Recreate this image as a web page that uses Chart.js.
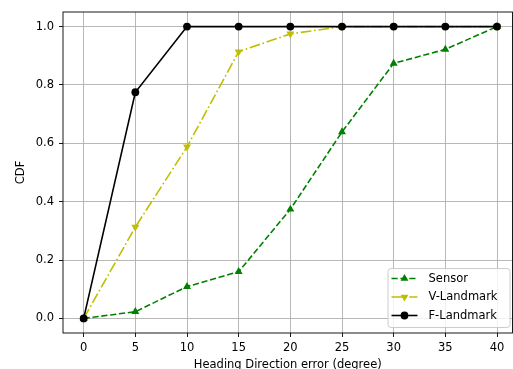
<!DOCTYPE html>
<html lang="en">
<head>
<meta charset="utf-8" />
<title>Heading direction error CDF</title>
<script src="https://cdn.jsdelivr.net/npm/chart.js@4.4.1/dist/chart.umd.min.js"></script>
<style>
  html, body { margin: 0; padding: 0; background: #fff; }
  #wrap { width: 513px; height: 369px; }
</style>
</head>
<body>
<div id="wrap"><canvas id="cdf" width="513" height="369"></canvas></div>
<script>
// values
const errDeg = [0, 5, 10, 15, 20, 25, 30, 35, 40]
const sensor = [0, 0.023, 0.109, 0.16, 0.374, 0.639, 0.874, 0.922, 1.0]
const vLandmark = [0, 0.313, 0.588, 0.914, 0.975, 1.0, 1.0, 1.0, 1.0]
const fLandmark = [0, 0.775, 1.0, 1.0, 1.0, 1.0, 1.0, 1.0, 1.0]
const xTicks = [0, 5, 10, 15, 20, 25, 30, 35, 40]
const yTicks = [0, 0.2, 0.4, 0.6, 0.8, 1.0]

const FONT = 'DejaVu Sans'
const pts = (ys) => errDeg.map((x, i) => ({ x, y: ys[i] }))

const series = [
  { label: 'Sensor', data: pts(sensor), color: '#008000', dash: [6.2, 2.7], marker: 'triangle', rot: 0, r: 4.6, order: 3 },
  { label: 'V-Landmark', data: pts(vLandmark), color: '#bfbf00', dash: [10.7, 2.7, 1.7, 2.7], marker: 'triangle', rot: 180, r: 4.6, order: 2 },
  { label: 'F-Landmark', data: pts(fLandmark), color: '#000000', dash: [], marker: 'circle', rot: 0, r: 3.9, order: 1 },
]

function drawMarker(ctx, s, x, y) {
  ctx.save()
  ctx.fillStyle = s.color
  ctx.beginPath()
  if (s.marker === 'circle') {
    ctx.arc(x, y, s.r, 0, Math.PI * 2)
  } else {
    let rad = s.rot * Math.PI / 180
    for (let k = 0; k < 3; k++) {
      const px = x + Math.sin(rad) * s.r, py = y - Math.cos(rad) * s.r
      k === 0 ? ctx.moveTo(px, py) : ctx.lineTo(px, py)
      rad += 2 * Math.PI / 3
    }
    ctx.closePath()
  }
  ctx.fill()
  ctx.restore()
}

// frame on all four sides + matplotlib style legend in lower right
const framePlugin = {
  id: 'frame',
  afterDraw(chart) {
    const { ctx, chartArea: a } = chart
    ctx.save()
    ctx.strokeStyle = '#000'
    ctx.lineWidth = 0.9
    ctx.strokeRect(a.left, a.top, a.right - a.left, a.bottom - a.top)

    const bw = 122, bh = 59
    const bx = a.right - bw - 3, by = a.bottom - bh - 6
    ctx.fillStyle = 'rgba(255,255,255,0.8)'
    ctx.strokeStyle = '#cccccc'
    ctx.lineWidth = 1
    ctx.beginPath()
    ctx.roundRect(bx + 0.5, by + 0.5, bw, bh, 3)
    ctx.fill()
    ctx.stroke()

    ctx.font = '11.5px "' + FONT + '"'
    ctx.textBaseline = 'middle'
    ctx.textAlign = 'left'
    series.forEach((s, i) => {
      const cy = by + 10.5 + i * 18.5
      ctx.strokeStyle = s.color
      ctx.lineWidth = 1.6
      ctx.setLineDash(s.dash)
      ctx.beginPath()
      ctx.moveTo(bx + 4, cy)
      ctx.lineTo(bx + 30, cy)
      ctx.stroke()
      ctx.setLineDash([])
      drawMarker(ctx, s, bx + 17, cy)
      ctx.fillStyle = '#000'
      ctx.fillText(s.label, bx + 41, cy + 0.5)
    })
    ctx.restore()
  },
}

new Chart(document.getElementById('cdf'), {
  type: 'line',
  data: {
    datasets: series.map((s) => ({
      label: s.label,
      data: s.data,
      borderColor: s.color,
      backgroundColor: s.color,
      borderWidth: 1.6,
      borderDash: s.dash,
      pointStyle: s.marker,
      pointRotation: s.rot,
      pointRadius: s.r,
      pointBorderWidth: 0,
      pointBackgroundColor: s.color,
      tension: 0,
      fill: false,
      order: s.order,
      clip: false,
    })),
  },
  options: {
    responsive: false,
    animation: false,
    devicePixelRatio: 1,
    layout: { autoPadding: false, padding: { top: 12, right: 0.5, left: 0, bottom: 0 } },
    plugins: { legend: { display: false }, tooltip: { enabled: false } },
    scales: {
      x: {
        type: 'linear',
        min: -2,
        max: 41.5,
        afterBuildTicks: (sc) => { sc.ticks = xTicks.map((v) => ({ value: v })) },
        afterFit: (sc) => { sc.height = 36; sc.paddingLeft = 0; sc.paddingRight = 0 },
        grid: { color: '#b0b0b0', lineWidth: 0.9, tickColor: '#000', tickLength: 4, drawTicks: true },
        border: { display: false },
        ticks: { color: '#000', font: { family: FONT, size: 11.5 }, padding: 4, maxRotation: 0, autoSkip: false },
        title: { display: true, text: 'Heading Direction error (degree)', color: '#000', font: { family: FONT, size: 11.5 }, padding: { top: 0, bottom: -3 } },
      },
      y: {
        type: 'linear',
        min: -0.05,
        max: 1.05,
        afterBuildTicks: (sc) => { sc.ticks = yTicks.map((v) => ({ value: v })) },
        afterFit: (sc) => { sc.width = 63; sc.paddingTop = 0; sc.paddingBottom = 0 },
        grid: { color: '#b0b0b0', lineWidth: 0.9, tickColor: '#000', tickLength: 4 },
        border: { display: false },
        ticks: { color: '#000', font: { family: FONT, size: 11.5 }, padding: 5, callback: (v) => Number(v).toFixed(1) },
        title: { display: true, text: 'CDF', color: '#000', font: { family: FONT, size: 11.5 }, padding: { top: 14, bottom: 0 } },
      },
    },
  },
  plugins: [framePlugin],
})
</script>
</body>
</html>
